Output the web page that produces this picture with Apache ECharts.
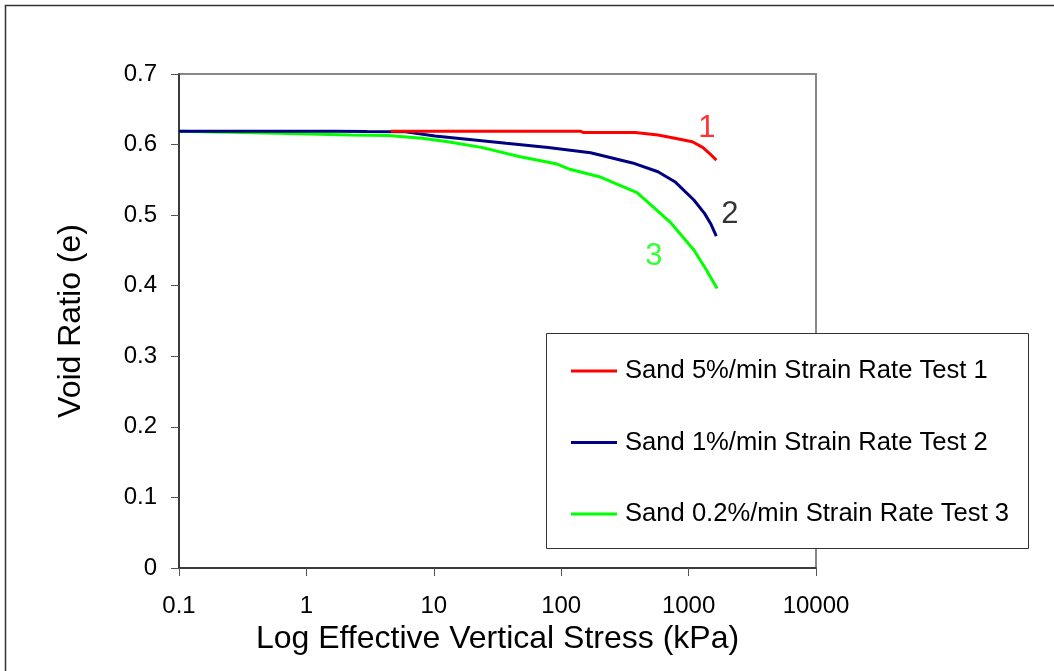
<!DOCTYPE html>
<html><head><meta charset="utf-8">
<script src="https://cdn.jsdelivr.net/npm/echarts@6/dist/echarts.min.js"></script>
<style>html,body{margin:0;padding:0;background:#fff}#c{width:1054px;height:671px}</style>
</head><body><div id="c"></div>
<script>
const xTicks = [0.1, 1, 10, 100, 1000, 10000];
const yTicks = [0, 0.1, 0.2, 0.3, 0.4, 0.5, 0.6, 0.7];
const seriesNames = ['Sand 5%/min Strain Rate Test 1', 'Sand 1%/min Strain Rate Test 2', 'Sand 0.2%/min Strain Rate Test 3'];
// stress (kPa)
const test1Stress = [4.6, 20, 60, 141, 150, 380, 575, 780, 1070, 1290, 1450, 1650];
const test1Void   = [0.619, 0.619, 0.619, 0.619, 0.617, 0.617, 0.6135, 0.609, 0.604, 0.596, 0.588, 0.578];
const test2Stress = [0.1, 0.5, 1.64, 3, 6, 10.2, 17.4, 37, 79, 170, 363, 575, 780, 1100, 1333, 1500, 1650];
const test2Void   = [0.619, 0.619, 0.619, 0.6185, 0.618, 0.612, 0.608, 0.602, 0.596, 0.5885, 0.574, 0.5615, 0.5474, 0.5214, 0.5025, 0.487, 0.4704];
const test3Stress = [0.1, 0.61, 2.2, 4.4, 8.1, 12.9, 23.6, 46.6, 93, 117, 199, 394, 724, 1100, 1380, 1675];
const test3Void   = [0.619, 0.616, 0.6135, 0.613, 0.6088, 0.604, 0.596, 0.583, 0.5724, 0.565, 0.5545, 0.532, 0.4893, 0.4506, 0.4222, 0.396];
const curveLabels = ['1', '2', '3'];
const curveLabelPos = [[1393, 0.6235], [2113, 0.5016], [535, 0.4421]];

const zip = (a, b) => a.map((v, i) => [v, b[i]]);
const colors = ['#ff0000', '#000080', '#00ff00'];
const labelColors = ['#ff0000', '#000000', '#00ff00'];
const font = 'Liberation Sans, Arial, sans-serif';

const chart = echarts.init(document.getElementById('c'));
const data = [zip(test1Stress, test1Void), zip(test2Stress, test2Void), zip(test3Stress, test3Void)];
chart.setOption({
  animation: false,
  grid: {left: 179, right: 238, top: 74, bottom: 103, show: true, borderColor: '#888', borderWidth: 2, backgroundColor: 'transparent'},
  xAxis: {
    type: 'log', logBase: 10, min: xTicks[0], max: xTicks[xTicks.length - 1],
    name: 'Log Effective Vertical Stress (kPa)', nameLocation: 'middle', nameGap: 51,
    nameTextStyle: {fontFamily: font, fontSize: 32, color: '#000'},
    axisLine: {lineStyle: {color: '#222', width: 1.5}},
    axisTick: {inside: false, length: 8, lineStyle: {color: '#555'}},
    minorTick: {show: false},
    splitLine: {show: false},
    axisLabel: {fontFamily: font, fontSize: 24, color: '#000', margin: 26, formatter: v => String(v)}
  },
  yAxis: {
    type: 'value', min: 0, max: 0.7, interval: 0.1,
    name: 'Void Ratio (e)', nameLocation: 'middle', nameGap: 92, nameRotate: 90,
    nameTextStyle: {fontFamily: font, fontSize: 32, color: '#000'},
    axisLine: {show: true, lineStyle: {color: '#222', width: 1.5}},
    axisTick: {show: true, length: 8, lineStyle: {color: '#555'}},
    splitLine: {show: false},
    axisLabel: {fontFamily: font, fontSize: 24, color: '#000', margin: 22, formatter: v => String(Math.round(v * 10) / 10)}
  },
  legend: {
    orient: 'vertical', left: 566, top: 353, itemGap: 45.5, itemWidth: 46, itemHeight: 3,
    icon: 'rect',
    textStyle: {fontFamily: font, fontSize: 25.6, color: '#000', padding: [0, 0, 0, 3]},
    data: seriesNames
  },
  graphic: [
    {type: 'rect', shape: {x: 5.5, y: 5.5, width: 1100, height: 1000}, style: {fill: 'none', stroke: '#333', lineWidth: 1.5}, z: -10},
    {type: 'rect', shape: {x: 546.5, y: 333.5, width: 482, height: 215}, style: {fill: '#fff', stroke: '#333', lineWidth: 1}, z: 0}
  ],
  series: seriesNames.map((n, i) => ({
    name: n, type: 'line', data: data[i], showSymbol: false, symbol: 'none',
    lineStyle: {color: colors[i], width: 3}, itemStyle: {color: colors[i]},
    z: 3 - i
  })).concat(curveLabels.map((t, i) => ({
    type: 'scatter', symbolSize: 0, silent: true, data: [curveLabelPos[i]],
    label: {show: true, position: 'inside', formatter: t, fontFamily: font, fontSize: 31, color: labelColors[i]}
  })))
});
</script></body></html>
